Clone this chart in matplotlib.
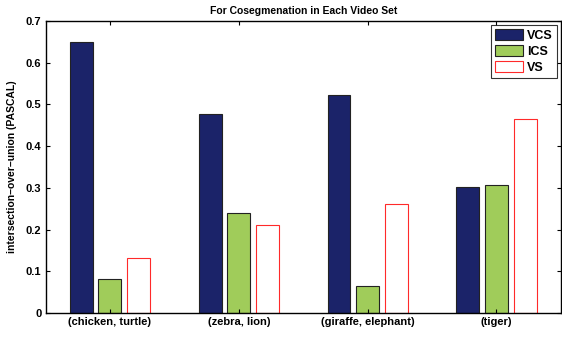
import matplotlib
matplotlib.use("Agg")
import matplotlib.pyplot as plt
import numpy as np

plt.rcParams['font.family'] = ['Liberation Sans', 'DejaVu Sans']
plt.rcParams['font.weight'] = 'bold'

categories = ['(chicken, turtle)', '(zebra, lion)', '(giraffe, elephant)', '(tiger)']
series_names = ['VCS', 'ICS', 'VS']
vcs = [0.650, 0.478, 0.523, 0.303]
ics = [0.081, 0.239, 0.065, 0.307]
vs = [0.133, 0.210, 0.262, 0.466]
yticks = [0, 0.1, 0.2, 0.3, 0.4, 0.5, 0.6, 0.7]
ytick_labels = ['0', '0.1', '0.2', '0.3', '0.4', '0.5', '0.6', '0.7']

fig = plt.figure(figsize=(5.62, 3.38), dpi=100)
ax = fig.add_axes([0.081, 0.074, 0.917, 0.864])

x = np.arange(1, len(categories) + 1)
offsets = [-0.222, 0.0, 0.222]
width = 0.178
styles = [
    dict(facecolor='#1b2369', edgecolor='#222222', linewidth=0.8),
    dict(facecolor='#a0cc5a', edgecolor='#222222', linewidth=0.8),
    dict(facecolor='white', edgecolor='#ff2a2a', linewidth=0.8),
]
for vals, off, st, name in zip([vcs, ics, vs], offsets, styles, series_names):
    ax.bar(x + off, vals, width, label=name, **st)

ax.set_xlim(0.5, 4.5)
ax.set_ylim(0, 0.7)
ax.set_xticks(x)
ax.set_xticklabels(categories, fontsize=8, fontweight='bold')
ax.set_yticks(yticks)
ax.set_yticklabels(ytick_labels, fontsize=8, fontweight='bold')
ax.tick_params(direction='in', length=3, width=0.8, top=True, right=True, pad=3)
for s in ax.spines.values():
    s.set_linewidth(1.0)
ax.set_ylabel('intersection\u2013over\u2013union (PASCAL)', fontsize=7.5, fontweight='bold', labelpad=6)
ax.set_title('For Cosegmenation in Each Video Set', fontsize=7.5, fontweight='bold', pad=5)

leg = ax.legend(loc='upper right', fontsize=9, frameon=True, fancybox=False,
                edgecolor='black', handlelength=2.3, handleheight=1.0,
                borderpad=0.3, labelspacing=0.25, handletextpad=0.3,
                borderaxespad=0.35)
leg.get_frame().set_linewidth(0.8)

fig.savefig('out.png', dpi=100)
